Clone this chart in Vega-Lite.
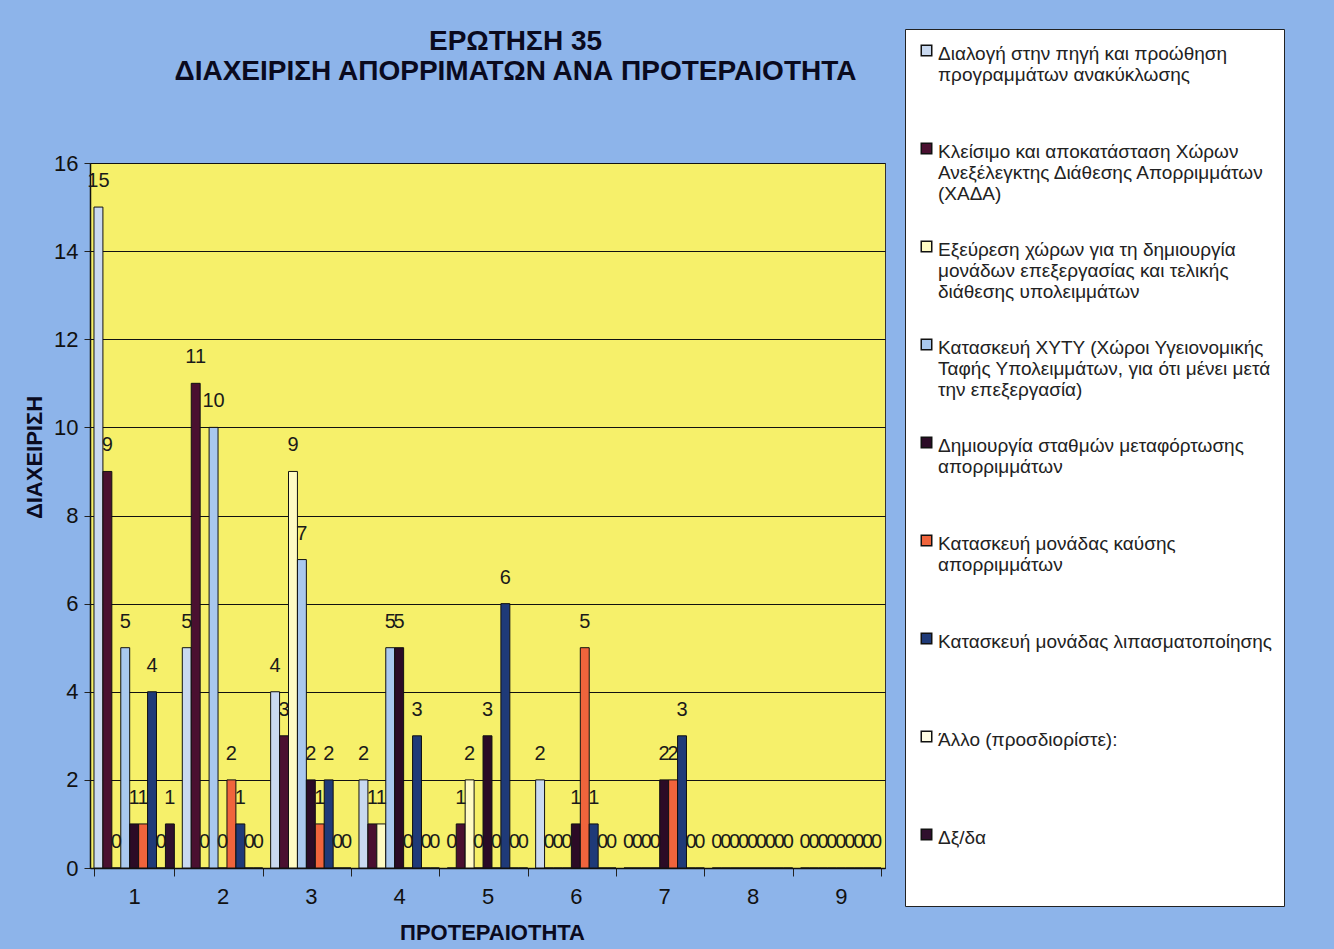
{
  "$schema": "https://vega.github.io/schema/vega-lite/v6.json",
  "autosize": {"type": "none"},
  "width": 795,
  "height": 705,
  "padding": {"left": 90, "top": 163, "right": 449, "bottom": 81},
  "background": "#8db4ea",
  "title": {
    "text": ["ΕΡΩΤΗΣΗ 35", "ΔΙΑΧΕΙΡΙΣΗ ΑΠΟΡΡΙΜΑΤΩΝ ΑΝΑ ΠΡΟΤΕΡΑΙΟΤΗΤΑ"],
    "anchor": "middle",
    "dx": 28,
    "dy": 57,
    "offset": 0,
    "font": "Liberation Sans Narrow, Arial Narrow, Liberation Sans, sans-serif",
    "fontSize": 28,
    "fontWeight": "bold",
    "color": "#0a0a1e",
    "lineHeight": 30
  },
  "config": {
    "view": {"fill": "#f6f06a", "stroke": "#333333", "strokeWidth": 1},
    "font": "Liberation Sans"
  },
  "data": {
    "values": [
      {"p": "1", "Διαλογή στην πηγή και προώθηση προγραμμάτων ανακύκλωσης": 15, "Κλείσιμο και αποκατάσταση Χώρων Ανεξέλεγκτης Διάθεσης Απορριμμάτων (ΧΑΔΑ)": 9, "Εξεύρεση χώρων για τη δημιουργία μονάδων επεξεργασίας και τελικής διάθεσης υπολειμμάτων": 0, "Κατασκευή ΧΥΤΥ (Χώροι Υγειονομικής Ταφής Υπολειμμάτων, για ότι μένει μετά την επεξεργασία)": 5, "Δημιουργία σταθμών μεταφόρτωσης απορριμμάτων": 1, "Κατασκευή μονάδας καύσης απορριμμάτων": 1, "Κατασκευή μονάδας λιπασματοποίησης": 4, "Άλλο (προσδιορίστε):": 0, "Δξ/δα": 1},
      {"p": "2", "Διαλογή στην πηγή και προώθηση προγραμμάτων ανακύκλωσης": 5, "Κλείσιμο και αποκατάσταση Χώρων Ανεξέλεγκτης Διάθεσης Απορριμμάτων (ΧΑΔΑ)": 11, "Εξεύρεση χώρων για τη δημιουργία μονάδων επεξεργασίας και τελικής διάθεσης υπολειμμάτων": 0, "Κατασκευή ΧΥΤΥ (Χώροι Υγειονομικής Ταφής Υπολειμμάτων, για ότι μένει μετά την επεξεργασία)": 10, "Δημιουργία σταθμών μεταφόρτωσης απορριμμάτων": 0, "Κατασκευή μονάδας καύσης απορριμμάτων": 2, "Κατασκευή μονάδας λιπασματοποίησης": 1, "Άλλο (προσδιορίστε):": 0, "Δξ/δα": 0},
      {"p": "3", "Διαλογή στην πηγή και προώθηση προγραμμάτων ανακύκλωσης": 4, "Κλείσιμο και αποκατάσταση Χώρων Ανεξέλεγκτης Διάθεσης Απορριμμάτων (ΧΑΔΑ)": 3, "Εξεύρεση χώρων για τη δημιουργία μονάδων επεξεργασίας και τελικής διάθεσης υπολειμμάτων": 9, "Κατασκευή ΧΥΤΥ (Χώροι Υγειονομικής Ταφής Υπολειμμάτων, για ότι μένει μετά την επεξεργασία)": 7, "Δημιουργία σταθμών μεταφόρτωσης απορριμμάτων": 2, "Κατασκευή μονάδας καύσης απορριμμάτων": 1, "Κατασκευή μονάδας λιπασματοποίησης": 2, "Άλλο (προσδιορίστε):": 0, "Δξ/δα": 0},
      {"p": "4", "Διαλογή στην πηγή και προώθηση προγραμμάτων ανακύκλωσης": 2, "Κλείσιμο και αποκατάσταση Χώρων Ανεξέλεγκτης Διάθεσης Απορριμμάτων (ΧΑΔΑ)": 1, "Εξεύρεση χώρων για τη δημιουργία μονάδων επεξεργασίας και τελικής διάθεσης υπολειμμάτων": 1, "Κατασκευή ΧΥΤΥ (Χώροι Υγειονομικής Ταφής Υπολειμμάτων, για ότι μένει μετά την επεξεργασία)": 5, "Δημιουργία σταθμών μεταφόρτωσης απορριμμάτων": 5, "Κατασκευή μονάδας καύσης απορριμμάτων": 0, "Κατασκευή μονάδας λιπασματοποίησης": 3, "Άλλο (προσδιορίστε):": 0, "Δξ/δα": 0},
      {"p": "5", "Διαλογή στην πηγή και προώθηση προγραμμάτων ανακύκλωσης": 0, "Κλείσιμο και αποκατάσταση Χώρων Ανεξέλεγκτης Διάθεσης Απορριμμάτων (ΧΑΔΑ)": 1, "Εξεύρεση χώρων για τη δημιουργία μονάδων επεξεργασίας και τελικής διάθεσης υπολειμμάτων": 2, "Κατασκευή ΧΥΤΥ (Χώροι Υγειονομικής Ταφής Υπολειμμάτων, για ότι μένει μετά την επεξεργασία)": 0, "Δημιουργία σταθμών μεταφόρτωσης απορριμμάτων": 3, "Κατασκευή μονάδας καύσης απορριμμάτων": 0, "Κατασκευή μονάδας λιπασματοποίησης": 6, "Άλλο (προσδιορίστε):": 0, "Δξ/δα": 0},
      {"p": "6", "Διαλογή στην πηγή και προώθηση προγραμμάτων ανακύκλωσης": 2, "Κλείσιμο και αποκατάσταση Χώρων Ανεξέλεγκτης Διάθεσης Απορριμμάτων (ΧΑΔΑ)": 0, "Εξεύρεση χώρων για τη δημιουργία μονάδων επεξεργασίας και τελικής διάθεσης υπολειμμάτων": 0, "Κατασκευή ΧΥΤΥ (Χώροι Υγειονομικής Ταφής Υπολειμμάτων, για ότι μένει μετά την επεξεργασία)": 0, "Δημιουργία σταθμών μεταφόρτωσης απορριμμάτων": 1, "Κατασκευή μονάδας καύσης απορριμμάτων": 5, "Κατασκευή μονάδας λιπασματοποίησης": 1, "Άλλο (προσδιορίστε):": 0, "Δξ/δα": 0},
      {"p": "7", "Διαλογή στην πηγή και προώθηση προγραμμάτων ανακύκλωσης": 0, "Κλείσιμο και αποκατάσταση Χώρων Ανεξέλεγκτης Διάθεσης Απορριμμάτων (ΧΑΔΑ)": 0, "Εξεύρεση χώρων για τη δημιουργία μονάδων επεξεργασίας και τελικής διάθεσης υπολειμμάτων": 0, "Κατασκευή ΧΥΤΥ (Χώροι Υγειονομικής Ταφής Υπολειμμάτων, για ότι μένει μετά την επεξεργασία)": 0, "Δημιουργία σταθμών μεταφόρτωσης απορριμμάτων": 2, "Κατασκευή μονάδας καύσης απορριμμάτων": 2, "Κατασκευή μονάδας λιπασματοποίησης": 3, "Άλλο (προσδιορίστε):": 0, "Δξ/δα": 0},
      {"p": "8", "Διαλογή στην πηγή και προώθηση προγραμμάτων ανακύκλωσης": 0, "Κλείσιμο και αποκατάσταση Χώρων Ανεξέλεγκτης Διάθεσης Απορριμμάτων (ΧΑΔΑ)": 0, "Εξεύρεση χώρων για τη δημιουργία μονάδων επεξεργασίας και τελικής διάθεσης υπολειμμάτων": 0, "Κατασκευή ΧΥΤΥ (Χώροι Υγειονομικής Ταφής Υπολειμμάτων, για ότι μένει μετά την επεξεργασία)": 0, "Δημιουργία σταθμών μεταφόρτωσης απορριμμάτων": 0, "Κατασκευή μονάδας καύσης απορριμμάτων": 0, "Κατασκευή μονάδας λιπασματοποίησης": 0, "Άλλο (προσδιορίστε):": 0, "Δξ/δα": 0},
      {"p": "9", "Διαλογή στην πηγή και προώθηση προγραμμάτων ανακύκλωσης": 0, "Κλείσιμο και αποκατάσταση Χώρων Ανεξέλεγκτης Διάθεσης Απορριμμάτων (ΧΑΔΑ)": 0, "Εξεύρεση χώρων για τη δημιουργία μονάδων επεξεργασίας και τελικής διάθεσης υπολειμμάτων": 0, "Κατασκευή ΧΥΤΥ (Χώροι Υγειονομικής Ταφής Υπολειμμάτων, για ότι μένει μετά την επεξεργασία)": 0, "Δημιουργία σταθμών μεταφόρτωσης απορριμμάτων": 0, "Κατασκευή μονάδας καύσης απορριμμάτων": 0, "Κατασκευή μονάδας λιπασματοποίησης": 0, "Άλλο (προσδιορίστε):": 0, "Δξ/δα": 0}
    ]
  },
  "transform": [
    {"fold": [
      "Διαλογή στην πηγή και προώθηση προγραμμάτων ανακύκλωσης",
      "Κλείσιμο και αποκατάσταση Χώρων Ανεξέλεγκτης Διάθεσης Απορριμμάτων (ΧΑΔΑ)",
      "Εξεύρεση χώρων για τη δημιουργία μονάδων επεξεργασίας και τελικής διάθεσης υπολειμμάτων",
      "Κατασκευή ΧΥΤΥ (Χώροι Υγειονομικής Ταφής Υπολειμμάτων, για ότι μένει μετά την επεξεργασία)",
      "Δημιουργία σταθμών μεταφόρτωσης απορριμμάτων",
      "Κατασκευή μονάδας καύσης απορριμμάτων",
      "Κατασκευή μονάδας λιπασματοποίησης",
      "Άλλο (προσδιορίστε):",
      "Δξ/δα"
    ], "as": ["series", "value"]}
  ],
  "encoding": {
    "x": {
      "field": "p", "type": "nominal", "title": "ΠΡΟΤΕΡΑΙΟΤΗΤΑ",
      "scale": {"paddingInner": 0.09, "paddingOuter": 0.045},
      "axis": {
        "labelAngle": 0, "labelFontSize": 22, "labelColor": "#111111", "labelPadding": 10,
        "tickBand": "extent", "tickSize": 8, "tickColor": "#222222", "domainColor": "#111111", "domainWidth": 1.5,
        "titleFontSize": 22, "titleFontWeight": "bold", "titleColor": "#0a0a1e",
        "titleX": 402, "titleY": 64, "titleBaseline": "middle", "titleAnchor": "middle", "grid": false
      }
    },
    "xOffset": {
      "field": "series", "type": "nominal",
      "sort": [
        "Διαλογή στην πηγή και προώθηση προγραμμάτων ανακύκλωσης",
        "Κλείσιμο και αποκατάσταση Χώρων Ανεξέλεγκτης Διάθεσης Απορριμμάτων (ΧΑΔΑ)",
        "Εξεύρεση χώρων για τη δημιουργία μονάδων επεξεργασίας και τελικής διάθεσης υπολειμμάτων",
        "Κατασκευή ΧΥΤΥ (Χώροι Υγειονομικής Ταφής Υπολειμμάτων, για ότι μένει μετά την επεξεργασία)",
        "Δημιουργία σταθμών μεταφόρτωσης απορριμμάτων",
        "Κατασκευή μονάδας καύσης απορριμμάτων",
        "Κατασκευή μονάδας λιπασματοποίησης",
        "Άλλο (προσδιορίστε):",
        "Δξ/δα"
      ],
      "scale": {"paddingInner": 0, "paddingOuter": 0}
    },
    "y": {
      "field": "value", "type": "quantitative", "title": "ΔΙΑΧΕΙΡΙΣΗ",
      "scale": {"domain": [0, 16], "nice": false},
      "axis": {
        "values": [0, 2, 4, 6, 8, 10, 12, 14, 16],
        "labelFontSize": 22, "labelColor": "#111111", "labelPadding": 6,
        "tickSize": 6, "tickColor": "#222222", "domainColor": "#111111", "domainWidth": 1.5,
        "grid": true, "gridColor": "#111111", "gridWidth": 1, "gridOpacity": 1,
        "titleFontSize": 22, "titleFontWeight": "bold", "titleColor": "#0a0a1e",
        "titleX": -56, "titleY": 294, "titleAnchor": "middle", "titleBaseline": "middle"
      }
    }
  },
  "layer": [
    {
      "mark": {"type": "bar", "stroke": "#111111", "strokeWidth": 1},
      "encoding": {
        "color": {
          "field": "series", "type": "nominal",
          "scale": {
            "domain": [
              "Διαλογή στην πηγή και προώθηση προγραμμάτων ανακύκλωσης",
              "Κλείσιμο και αποκατάσταση Χώρων Ανεξέλεγκτης Διάθεσης Απορριμμάτων (ΧΑΔΑ)",
              "Εξεύρεση χώρων για τη δημιουργία μονάδων επεξεργασίας και τελικής διάθεσης υπολειμμάτων",
              "Κατασκευή ΧΥΤΥ (Χώροι Υγειονομικής Ταφής Υπολειμμάτων, για ότι μένει μετά την επεξεργασία)",
              "Δημιουργία σταθμών μεταφόρτωσης απορριμμάτων",
              "Κατασκευή μονάδας καύσης απορριμμάτων",
              "Κατασκευή μονάδας λιπασματοποίησης",
              "Άλλο (προσδιορίστε):",
              "Δξ/δα"
            ],
            "range": ["#c9d9f0", "#4a1030", "#fffbc4", "#a9c8ee", "#2b0b26", "#f0643c", "#1f3a78", "#fffde4", "#30102e"]
          },
          "legend": {
            "title": " ", "titleOrient": "bottom", "titleFontSize": 40, "titlePadding": 6,
            "orient": "none", "legendX": 815, "legendY": -134,
            "direction": "vertical", "columns": 1,
            "fillColor": "#ffffff", "strokeColor": "#222222",
            "padding": 12, "gridAlign": "all", "rowPadding": 33,
            "symbolType": "square", "symbolSize": 110, "symbolStrokeColor": "#111111", "symbolStrokeWidth": 1.5,
            "labelFont": "Liberation Sans", "labelFontSize": 19, "labelColor": "#222222", "labelLimit": 400,
            "labelOffset": 2, "labelBaseline": "top",
            "encode": {"labels": {"update": {"dy": {"value": -6}}}},
            "labelExpr": "indexof(datum.label,'Διαλογή')==0 ? ['Διαλογή στην πηγή και προώθηση','προγραμμάτων ανακύκλωσης'] : indexof(datum.label,'Κλείσιμο')==0 ? ['Κλείσιμο και αποκατάσταση Χώρων','Ανεξέλεγκτης Διάθεσης Απορριμμάτων','(ΧΑΔΑ)'] : indexof(datum.label,'Εξεύρεση')==0 ? ['Εξεύρεση χώρων για τη δημιουργία','μονάδων επεξεργασίας και τελικής','διάθεσης υπολειμμάτων'] : indexof(datum.label,'Κατασκευή ΧΥΤΥ')==0 ? ['Κατασκευή ΧΥΤΥ (Χώροι Υγειονομικής','Ταφής Υπολειμμάτων, για ότι μένει μετά','την επεξεργασία)'] : indexof(datum.label,'Δημιουργία')==0 ? ['Δημιουργία σταθμών μεταφόρτωσης','απορριμμάτων'] : indexof(datum.label,'Κατασκευή μονάδας καύσης')==0 ? ['Κατασκευή μονάδας καύσης','απορριμμάτων'] : datum.label"
          }
        }
      }
    },
    {
      "mark": {"type": "text", "dy": -26, "fontSize": 20, "color": "#1a1a1a", "font": "Liberation Sans"},
      "encoding": {"text": {"field": "value", "type": "quantitative"}}
    }
  ]
}
